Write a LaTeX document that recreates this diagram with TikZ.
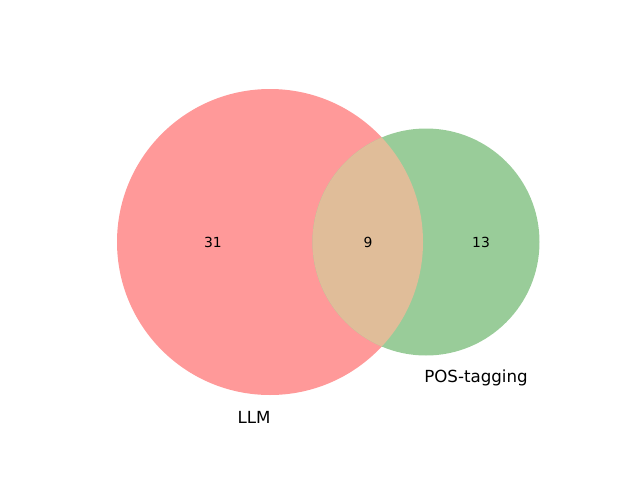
\documentclass[tikz,border=0pt]{standalone}
\usepackage{fontspec}
\setmainfont{DejaVu Sans}
\definecolor{setA}{RGB}{255,153,153}
\definecolor{setB}{RGB}{153,204,153}
\definecolor{setAB}{RGB}{224,189,153}
\begin{document}
\begin{tikzpicture}[x=0.72pt,y=-0.72pt,
  num/.style={font=\fontsize{10}{12}\selectfont, text=black},
  setlabel/.style={font=\fontsize{12}{14}\selectfont, text=black}]
\useasboundingbox (0,0) rectangle (640,480);
\fill[setA] (270,242) circle[radius=153*0.72pt];
\fill[setB] (426,242) circle[radius=113.5*0.72pt];
\begin{scope}
  \clip (270,242) circle[radius=153*0.72pt];
  \fill[setAB] (426,242) circle[radius=113.5*0.72pt];
\end{scope}
\node[num] (a) at (213,242) {31};
\node[num] (ab) at (368,242) {9};
\node[num] (b) at (481,242) {13};
\node[setlabel] (la) at (254,417) {LLM};
\node[setlabel] (lb) at (476,378) {POS-tagging};
\end{tikzpicture}
\end{document}
